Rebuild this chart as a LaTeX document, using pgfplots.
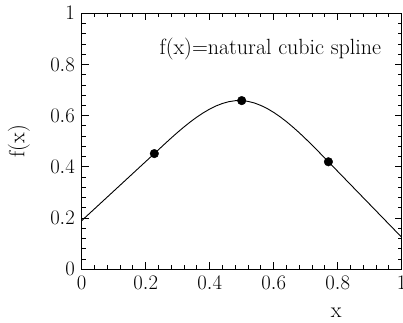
\documentclass[border=0pt]{standalone}
\usepackage{pgfplots}
\pgfplotsset{compat=1.18}
\begin{document}
\fontsize{20bp}{24bp}\selectfont
\begin{tikzpicture}
\begin{axis}[
  at={(0,0)}, anchor=south west,
  scale only axis, width=320bp, height=256bp,
  xmin=0, xmax=1, ymin=0, ymax=1,
  xtick={0,0.2,0.4,0.6,0.8,1}, ytick={0,0.2,0.4,0.6,0.8,1},
  minor tick num=4,
  tick align=inside, xtick pos=both, ytick pos=both,
  major tick length=7bp, minor tick length=4bp,
  every tick/.style={line width=0.9bp, black},
  axis line style={line width=1.1bp},
  tick label style={font=\fontsize{19.5bp}{23bp}\selectfont},
  label style={font=\fontsize{22bp}{26bp}\selectfont},
  xlabel={x}, ylabel={f(x)},
  xlabel style={at={(axis description cs:0.795,-0.190)}, anchor=base},
  ylabel style={at={(axis description cs:-0.196,0.5)}, anchor=center},
  clip=true,
]
\addplot[black, line width=0.9bp] coordinates {
(0,0.19) (0.227,0.452) (0.26,0.4904) (0.28,0.5132) (0.30,0.5353) (0.32,0.5564)
(0.34,0.5763) (0.36,0.5947) (0.38,0.6113) (0.40,0.6259) (0.42,0.6382) (0.44,0.6479)
(0.46,0.6548) (0.48,0.6586) (0.50,0.6591) (0.52,0.6559) (0.54,0.6495) (0.56,0.6400)
(0.58,0.6277) (0.60,0.6129) (0.62,0.5957) (0.64,0.5766) (0.66,0.5556) (0.68,0.5333)
(0.70,0.5096) (0.72,0.4851) (0.74,0.4598) (0.76,0.4342) (0.771,0.4200) (1,0.125)
};
\addplot[only marks, mark=*, mark size=4.3bp, black] coordinates {
(0.227,0.452) (0.5,0.659) (0.771,0.420)
};
\node[anchor=base east, font=\fontsize{22bp}{26bp}\selectfont] at (axis cs:0.957,0.841) {f(x)=natural cubic spline};
\end{axis}
\pgfresetboundingbox
\path (-81.7bp,-53.7bp) rectangle (321.3bp,269.3bp);
\end{tikzpicture}
\end{document}
